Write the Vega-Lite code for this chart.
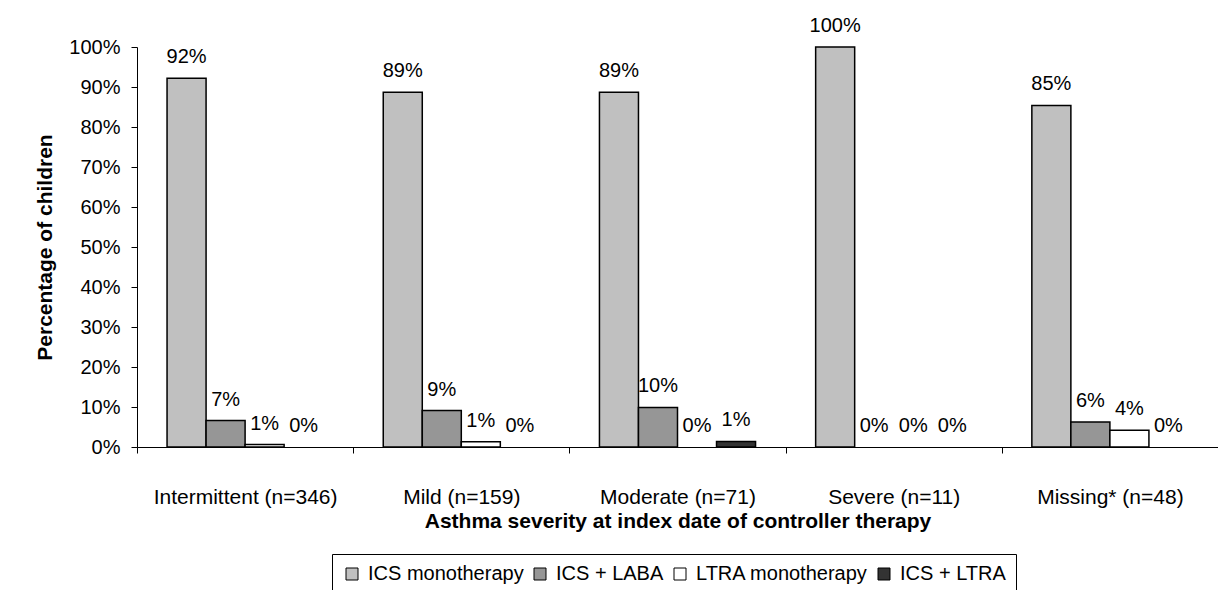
{
  "$schema": "https://vega.github.io/schema/vega-lite/v6.json",
  "width": 1081,
  "height": 400,
  "autosize": {"type": "none"},
  "padding": {"left": 137, "top": 47, "right": 0, "bottom": 143},
  "background": "white",
  "config": {"view": {"stroke": null}, "font": "Liberation Sans"},
  "data": {
    "values": [
      {"severity": "Intermittent (n=346)", "therapy": "ICS monotherapy", "value": 0.922},
      {"severity": "Intermittent (n=346)", "therapy": "ICS + LABA", "value": 0.066},
      {"severity": "Intermittent (n=346)", "therapy": "LTRA monotherapy", "value": 0.006},
      {"severity": "Intermittent (n=346)", "therapy": "ICS + LTRA", "value": 0.0},
      {"severity": "Mild (n=159)", "therapy": "ICS monotherapy", "value": 0.887},
      {"severity": "Mild (n=159)", "therapy": "ICS + LABA", "value": 0.091},
      {"severity": "Mild (n=159)", "therapy": "LTRA monotherapy", "value": 0.013},
      {"severity": "Mild (n=159)", "therapy": "ICS + LTRA", "value": 0.0},
      {"severity": "Moderate (n=71)", "therapy": "ICS monotherapy", "value": 0.887},
      {"severity": "Moderate (n=71)", "therapy": "ICS + LABA", "value": 0.099},
      {"severity": "Moderate (n=71)", "therapy": "LTRA monotherapy", "value": 0.0},
      {"severity": "Moderate (n=71)", "therapy": "ICS + LTRA", "value": 0.014},
      {"severity": "Severe (n=11)", "therapy": "ICS monotherapy", "value": 1.0},
      {"severity": "Severe (n=11)", "therapy": "ICS + LABA", "value": 0.0},
      {"severity": "Severe (n=11)", "therapy": "LTRA monotherapy", "value": 0.0},
      {"severity": "Severe (n=11)", "therapy": "ICS + LTRA", "value": 0.0},
      {"severity": "Missing* (n=48)", "therapy": "ICS monotherapy", "value": 0.854},
      {"severity": "Missing* (n=48)", "therapy": "ICS + LABA", "value": 0.0625},
      {"severity": "Missing* (n=48)", "therapy": "LTRA monotherapy", "value": 0.042},
      {"severity": "Missing* (n=48)", "therapy": "ICS + LTRA", "value": 0.0}
    ]
  },
  "encoding": {
    "x": {
      "field": "severity",
      "type": "nominal",
      "sort": ["Intermittent (n=346)", "Mild (n=159)", "Moderate (n=71)", "Severe (n=11)", "Missing* (n=48)"],
      "scale": {"paddingInner": 0, "paddingOuter": 0},
      "axis": {
        "title": "Asthma severity at index date of controller therapy",
        "titleFontSize": 21,
        "titleFontWeight": "bold",
        "titleColor": "black",
        "titlePadding": 3,
        "labelAngle": 0,
        "labelFontSize": 21,
        "labelColor": "black",
        "labelLimit": 400,
        "labelPadding": 33,
        "tickBand": "extent",
        "tickSize": 6,
        "tickColor": "black",
        "domainColor": "black",
        "grid": false
      }
    },
    "xOffset": {
      "field": "therapy",
      "type": "nominal",
      "sort": ["ICS monotherapy", "ICS + LABA", "LTRA monotherapy", "ICS + LTRA"],
      "scale": {"paddingInner": 0, "paddingOuter": 0.77}
    },
    "y": {
      "field": "value",
      "type": "quantitative",
      "scale": {"domain": [0, 1]},
      "axis": {
        "title": "Percentage of children",
        "titleFontSize": 21,
        "titleFontWeight": "bold",
        "titleColor": "black",
        "titlePadding": 13,
        "values": [0, 0.1, 0.2, 0.3, 0.4, 0.5, 0.6, 0.7, 0.8, 0.9, 1.0],
        "format": ".0%",
        "labelFontSize": 20,
        "labelColor": "black",
        "labelPadding": 11,
        "tickSize": 6,
        "tickColor": "black",
        "domainColor": "black",
        "grid": false
      }
    }
  },
  "layer": [
    {
      "transform": [{"filter": "datum.value > 0"}],
      "mark": {"type": "bar", "stroke": "black", "strokeWidth": 1.5},
      "encoding": {
        "fill": {
          "field": "therapy",
          "type": "nominal",
          "scale": {
            "domain": ["ICS monotherapy", "ICS + LABA", "LTRA monotherapy", "ICS + LTRA"],
            "range": ["#c0c0c0", "#969696", "#ffffff", "#333333"]
          },
          "legend": {
            "title": null,
            "orient": "none",
            "legendX": 195,
            "legendY": 507,
            "direction": "horizontal",
            "strokeColor": "black",
            "padding": 10,
            "symbolType": "square",
            "symbolSize": 144,
            "symbolStrokeColor": "black",
            "symbolStrokeWidth": 1,
            "symbolOpacity": 1,
            "labelFontSize": 20,
            "labelColor": "black",
            "labelLimit": 400,
            "labelOffset": 6,
            "columnPadding": 6
          }
        }
      }
    },
    {
      "mark": {"type": "text", "dy": -15, "baseline": "alphabetic", "fontSize": 20, "color": "black"},
      "encoding": {
        "text": {"field": "value", "type": "quantitative", "format": ".0%"}
      }
    }
  ]
}
